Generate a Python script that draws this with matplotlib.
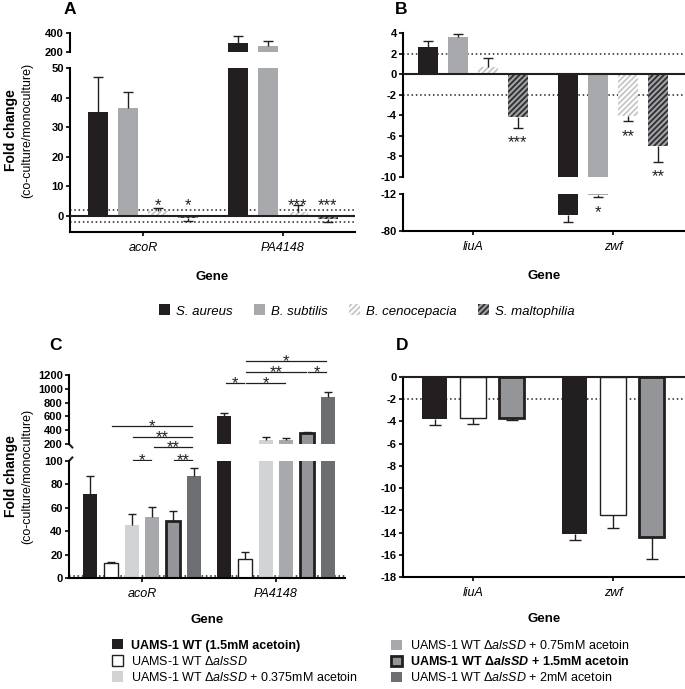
import matplotlib
matplotlib.use('Agg')
import matplotlib.pyplot as plt
from matplotlib.patches import Patch
from matplotlib import font_manager as fm
import numpy as np

names = {f.name for f in fm.fontManager.ttflist}
BASE = 'Liberation Sans' if 'Liberation Sans' in names else 'DejaVu Sans'
plt.rcParams.update({
    'font.family': [BASE, 'DejaVu Sans'],
    'axes.unicode_minus': False,
    'hatch.linewidth': 1.3,
    'mathtext.fontset': 'custom',
    'mathtext.rm': BASE,
    'mathtext.it': BASE + ':italic',
    'mathtext.bf': BASE + ':bold',
    'mathtext.bfit': BASE + ':italic:bold',
})

# ---------------- data ----------------
genes_A = ['acoR', 'PA4148']
genes_B = ['liuA', 'zwf']
species = ['S. aureus', 'B. subtilis', 'B. cenocepacia', 'S. maltophilia']

A_values = [[35.0, 300.0], [36.5, 265.0], [1.8, 1.5], [-0.7, -1.0]]
A_errors = [[12.0, 70.0], [5.5, 50.0], [0.8, 2.2], [1.1, 1.0]]
A_stars = [['', ''], ['', ''], ['*', '***'], ['*', '***']]

B_values = [[2.6, -50.5], [3.6, -13.8], [0.7, -4.1], [-4.2, -7.0]]
B_errors = [[0.6, 12.5], [0.3, 4.0], [0.9, 0.45], [1.0, 1.5]]
B_stars = [['', ''], ['', '*'], ['', '**'], ['***', '**']]

genes_C = ['acoR', 'PA4148']
genes_D = ['liuA', 'zwf']
conditions = ['UAMS-1 WT (1.5mM acetoin)',
              'UAMS-1 WT Δ$\\mathit{alsSD}$',
              'UAMS-1 WT Δ$\\mathit{alsSD}$ + 0.375mM acetoin',
              'UAMS-1 WT Δ$\\mathit{alsSD}$ + 0.75mM acetoin',
              'UAMS-1 WT Δ$\\mathbfit{alsSD}$ + 1.5mM acetoin',
              'UAMS-1 WT Δ$\\mathit{alsSD}$ + 2mM acetoin']
C_values = [[72.0, 605.0], [13.2, 16.0], [45.7, 255.0], [52.0, 262.0], [48.5, 360.0], [87.0, 885.0]]
C_errors = [[15.0, 48.0], [0.8, 6.0], [9.0, 50.0], [8.6, 22.0], [8.4, 18.0], [6.7, 72.0]]
# (gene index, bar i, bar j, label)
C_comparisons = [(0, 1, 5, '*'), (0, 2, 5, '**'), (0, 3, 5, '**'), (0, 2, 3, '*'), (0, 4, 5, '**'),
                 (1, 0, 1, '*'), (1, 1, 3, '*'), (1, 1, 4, '**'), (1, 4, 5, '*'), (1, 1, 5, '*')]

D_conditions = [0, 1, 4]
D_values = [[-3.75, -14.1], [-3.65, -12.4], [-3.65, -14.4]]
D_errors = [[0.55, 0.6], [0.55, 1.2], [0.2, 2.0]]

# ---------------- styles / layout ----------------
BLACK = '#231f20'
sp_styles = [dict(facecolor=BLACK, edgecolor=BLACK, linewidth=0),
             dict(facecolor='#a7a9ac', edgecolor='#a7a9ac', linewidth=0),
             dict(facecolor='white', edgecolor='#c4c6c8', hatch='//////', linewidth=0),
             dict(facecolor='#a0a2a5', edgecolor='#2e2e30', hatch='//////', linewidth=0)]
cond_styles = [dict(facecolor=BLACK, edgecolor=BLACK, linewidth=0),
               dict(facecolor='white', edgecolor=BLACK, linewidth=1.0),
               dict(facecolor='#d1d3d4', edgecolor='#d1d3d4', linewidth=0),
               dict(facecolor='#a7a9ac', edgecolor='#a7a9ac', linewidth=0),
               dict(facecolor='#939598', edgecolor=BLACK, linewidth=2.0),
               dict(facecolor='#6d6e71', edgecolor='#6d6e71', linewidth=0)]
C_levels = [461, 301, 157, -32, -32, 1084, 1084, 1243, 1243, 1403]  # in upper-C axis units

W, H = 685, 689
fig = plt.figure(figsize=(W / 100, H / 100), dpi=100)


def ax_px(x0, x1, y0, y1):
    return fig.add_axes([x0 / W, 1 - y1 / H, (x1 - x0) / W, (y1 - y0) / H])


def xlim_px(x0, x1, c0, c1):
    u = c1 - c0
    return ((x0 - c0) / u, (x1 - c0) / u)


def style(ax, bottom=True):
    for s in ['top', 'right']:
        ax.spines[s].set_visible(False)
    ax.spines['left'].set_linewidth(1.5)
    ax.spines['bottom'].set_linewidth(1.5)
    ax.tick_params(axis='y', width=1.2, length=3, labelsize=8, pad=1.5)
    for t in ax.get_yticklabels():
        t.set_fontweight('bold')
    if bottom:
        ax.tick_params(axis='x', width=1.2, length=3, labelsize=9, pad=4)
        for t in ax.get_xticklabels():
            t.set_fontstyle('italic')
    else:
        ax.spines['bottom'].set_visible(False)
        ax.tick_params(axis='x', bottom=False, labelbottom=False)


def set_yt(ax, ticks):
    ax.set_yticks(ticks)
    ax.set_yticklabels([str(t) for t in ticks])


def draw_bars(ax, values, errors, offsets, width, styles, capsize=3.5):
    pos = []
    for i, (vals, errs) in enumerate(zip(values, errors)):
        x = np.arange(len(vals)) + offsets[i]
        pos.append(x)
        ax.bar(x, vals, width, zorder=2, **styles[i])
        for xj, v, e in zip(x, vals, errs):
            lo, hi = (0, e) if v >= 0 else (e, 0)
            _, caps, _ = ax.errorbar([xj], [v], yerr=[[lo], [hi]], fmt='none', ecolor=BLACK,
                                     elinewidth=1.0, capsize=capsize, capthick=1.0, zorder=3)
            caps[0 if v >= 0 else 1].set_visible(False)
    return pos


dot = dict(color=BLACK, lw=1.1, ls=(0, (1, 1.8)), zorder=1)

# ---------------- Panel A ----------------
offs4 = (np.arange(4) - 1.5) * 0.214
wd4 = 0.143
A_xl = xlim_px(70, 355, 143, 283)
axA1 = ax_px(70, 355, 33, 52)
axA2 = ax_px(70, 355, 68, 232)
for ax in (axA1, axA2):
    pos = draw_bars(ax, A_values, A_errors, offs4, wd4, sp_styles)
    ax.set_xlim(*A_xl)
axA1.set_ylim(200, 400)
set_yt(axA1, [200, 400])
axA2.set_ylim(-5.4, 50)
set_yt(axA2, [0, 10, 20, 30, 40, 50])
axA2.axhline(0, color=BLACK, lw=1.5, zorder=4)
axA2.axhline(2, **dot)
axA2.axhline(-2, **dot)
axA2.set_xticks(range(2))
axA2.set_xticklabels(genes_A)
style(axA1, bottom=False)
style(axA2)
for i, row in enumerate(A_stars):
    for j, s in enumerate(row):
        if s:
            axA2.text(j + offs4[i], 2.1, s, ha='center', va='baseline', fontsize=12, color=BLACK)

# ---------------- Panel B ----------------
B_xl = xlim_px(403, 685, 473, 613)
axB1 = ax_px(403, 685, 33, 177)
axB2 = ax_px(403, 685, 194, 231)
for ax in (axB1, axB2):
    draw_bars(ax, B_values, B_errors, offs4, wd4, sp_styles)
    ax.set_xlim(*B_xl)
axB1.set_ylim(-10, 4)
set_yt(axB1, [4, 2, 0, -2, -4, -6, -8, -10])
axB2.set_ylim(-80, -12)
set_yt(axB2, [-12, -80])
axB1.axhline(0, color=BLACK, lw=1.5, zorder=4)
axB1.axhline(2, **dot)
axB1.axhline(-2, **dot)
axB2.set_xticks(range(2))
axB2.set_xticklabels(genes_B)
style(axB1, bottom=False)
style(axB2)
for i, row in enumerate(B_stars):
    for j, s in enumerate(row):
        if s:
            v = B_values[i][j]
            end = v - B_errors[i][j]
            ax = axB1 if end > -10 else axB2
            ax.annotate(s, xy=(j + offs4[i], end), xytext=(0, -14.2), textcoords='offset points',
                        ha='center', va='baseline', fontsize=12, color=BLACK, annotation_clip=False)

# ---------------- Panel C ----------------
offs6 = (np.arange(6) - 2.5) * 0.154
wd6 = 0.104
C_xl = xlim_px(69, 345, 142, 276)
axC1 = ax_px(69, 345, 375, 444)
axC2 = ax_px(69, 345, 461, 578)
for ax in (axC1, axC2):
    draw_bars(ax, C_values, C_errors, offs6, wd6, cond_styles, capsize=3)
    ax.set_xlim(*C_xl)
axC1.set_ylim(200, 1200)
set_yt(axC1, [200, 400, 600, 800, 1000, 1200])
axC2.set_ylim(0, 100)
set_yt(axC2, [0, 20, 40, 60, 80, 100])
axC2.axhline(2, **dot)
axC2.set_xticks(range(2))
axC2.set_xticklabels(genes_C)
style(axC1, bottom=False)
style(axC2)
# break hooks
axC1.plot([0, 0.012], [0, -0.05], transform=axC1.transAxes, color=BLACK, lw=1.5, clip_on=False)
axC2.plot([0, 0.012], [1, 1.03], transform=axC2.transAxes, color=BLACK, lw=1.5, clip_on=False)
for (g, i, j, s), lev in zip(C_comparisons, C_levels):
    x0 = g + offs6[i] + 0.01
    x1 = g + offs6[j] - 0.01
    axC1.plot([x0, x1], [lev, lev], color=BLACK, lw=0.9, clip_on=False)
    axC1.annotate(s, xy=((x0 + x1) / 2, lev), xytext=(0, -3.4), textcoords='offset points',
                  ha='center', va='baseline', fontsize=12, color=BLACK, annotation_clip=False)

# ---------------- Panel D ----------------
offs3 = (np.arange(3) - 1) * 0.275
wd3 = 0.18
D_xl = xlim_px(403, 685, 473, 613)
axD = ax_px(403, 685, 377, 577)
draw_bars(axD, D_values, D_errors, offs3, wd3, [cond_styles[k] for k in D_conditions], capsize=4.5)
axD.set_xlim(*D_xl)
axD.set_ylim(-18, 0)
set_yt(axD, list(range(0, -19, -2)))
axD.axhline(0, color=BLACK, lw=1.5, zorder=4, clip_on=False)
axD.axhline(-2, **dot)
axD.set_xticks(range(2))
axD.set_xticklabels(genes_D)
style(axD)

# ---------------- texts ----------------
for (x, y, s) in [(70, 10, 'A'), (401, 10, 'B'), (56, 345, 'C'), (402, 345, 'D')]:
    fig.text(x / W, 1 - y / H, s, ha='center', va='center', fontsize=12.5, fontweight='bold')
for (x, y) in [(212, 277), (544, 276), (207, 620), (544, 619)]:
    fig.text(x / W, 1 - y / H, 'Gene', ha='center', va='center', fontsize=9.5, fontweight='bold')
for (y) in [130, 476]:
    fig.text(11 / W, 1 - y / H, 'Fold change', rotation=90, ha='center', va='center',
             fontsize=10, fontweight='bold')
    fig.text(27 / W, 1 - y / H, '(co-culture/monoculture)', rotation=90, ha='center', va='center',
             fontsize=9)

# legend 1
h1 = [Patch(**sp_styles[i]) for i in range(4)]
fig.legend(h1, species, loc='center', bbox_to_anchor=(367 / W, 1 - 311 / H), ncol=4,
           frameon=False, prop={'style': 'italic', 'size': 9.5}, handlelength=0.8,
           handleheight=0.9, handletextpad=0.5, columnspacing=1.6, borderpad=0, borderaxespad=0)

# legend 2
for cols, xa in [((0, 1, 2), 112), ((3, 4, 5), 391)]:
    hs = [Patch(**cond_styles[k]) for k in cols]
    leg = fig.legend(hs, [conditions[k] for k in cols], loc='upper left',
                     bbox_to_anchor=(xa / W, 1 - 639 / H), frameon=False, prop={'size': 9},
                     handlelength=0.9, handleheight=0.9, handletextpad=0.6, labelspacing=0.25,
                     borderpad=0, borderaxespad=0)
    for t, k in zip(leg.get_texts(), cols):
        if k in (0, 4):
            t.set_fontweight('bold')

fig.savefig('out.png', dpi=100)
